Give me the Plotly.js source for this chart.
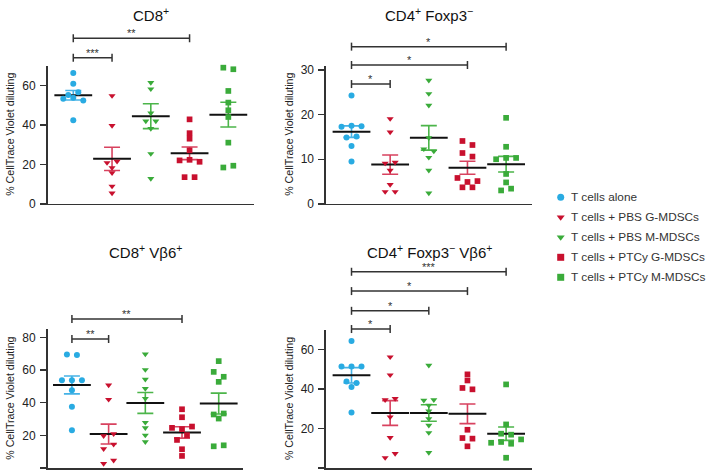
<!DOCTYPE html>
<html><head><meta charset="utf-8">
<script src="https://cdn.plot.ly/plotly-3.0.1.min.js"></script>
<style>html,body{margin:0;padding:0;background:#fff;}#chart{width:706px;height:475px;}</style>
</head><body><div id="chart"></div>
<script>
// ---------- DATA ----------
const groups = ['T cells alone', 'T cells + PBS G-MDSCs', 'T cells + PBS M-MDSCs', 'T cells + PTCy G-MDSCs', 'T cells + PTCy M-MDSCs'];
const panelTitles = ['CD8<sup>+</sup>', 'CD4<sup>+</sup> Foxp3<sup>−</sup>', 'CD8<sup>+</sup> Vβ6<sup>+</sup>', 'CD4<sup>+</sup> Foxp3<sup>−</sup> Vβ6<sup>+</sup>'];
const yTitle = '% CellTrace Violet diluting';
const ticks1 = [0, 20, 40, 60];
const ticks2 = [0, 10, 20, 30];
const ticks3 = [0, 20, 40, 60, 80];
const ticks4 = [0, 20, 40, 60];

// Panel 1: CD8+
const p1_alone = [66.3, 60.9, 55.1, 56.6, 53.3, 53.8, 52.4, 42.3];
const p1_pbsG  = [54.8, 39.6, 20.8, 21.5, 18.3, 15.7, 8.9, 5.4];
const p1_pbsM  = [61.4, 58.2, 46.0, 41.9, 41.9, 38.1, 25.4, 12.8];
const p1_ptcyG = [42.8, 35.8, 33.0, 27.1, 22.0, 22.3, 21.3, 13.5, 13.5];
const p1_ptcyM = [69.0, 68.2, 57.2, 51.3, 47.4, 44.0, 31.0, 18.4, 19.3];
const p1_mean = [55.0, 22.8, 44.4, 25.6, 45.2];
const p1_sem  = [2.4, 5.9, 6.3, 3.2, 6.3];
const p1_sig  = [[0, 1, '***'], [0, 3, '**']];

// Panel 2: CD4+ Foxp3-
const p2_alone = [24.3, 17.3, 17.5, 17.4, 14.9, 15.1, 13.0, 9.5];
const p2_pbsG  = [19.1, 16.1, 9.1, 9.3, 7.5, 4.3, 2.7, 2.7];
const p2_pbsM  = [27.7, 24.7, 22.1, 14.8, 12.3, 11.8, 10.4, 7.5, 2.4];
const p2_ptcyG = [14.1, 13.2, 11.4, 10.6, 5.8, 4.9, 5.1, 3.7, 3.7];
const p2_ptcyM = [19.3, 12.8, 10.0, 10.3, 10.3, 6.7, 4.8, 3.0, 3.4];
const p2_mean = [16.2, 8.8, 14.8, 8.1, 8.9];
const p2_sem  = [1.3, 2.15, 2.75, 1.45, 1.75];
const p2_sig  = [[0, 1, '*'], [0, 3, '*'], [0, 4, '*']];

// Panel 3: CD8+ Vb6+
const p3_alone = [69.6, 69.2, 53.8, 53.8, 53.8, 47.7, 37.5, 23.1];
const p3_pbsG  = [50.8, 42.0, 19.7, 20.9, 11.7, 14.5, 2.7, 4.7];
const p3_pbsM  = [69.8, 60.2, 54.3, 48.7, 42.6, 27.9, 24.6, 20.1, 16.0];
const p3_ptcyG = [36.0, 31.1, 24.6, 23.8, 25.4, 17.2, 20.1, 11.5, 7.4];
const p3_ptcyM = [65.5, 58.9, 55.9, 52.8, 32.8, 33.4, 30.3, 13.3, 13.9];
const p3_mean = [50.9, 20.8, 39.9, 21.8, 39.5];
const p3_sem  = [5.5, 6.1, 6.4, 3.5, 6.4];
const p3_sig  = [[0, 1, '**'], [0, 3, '**']];

// Panel 4: CD4+ Foxp3- Vb6+
const p4_alone = [64.4, 51.5, 51.5, 51.5, 43.9, 43.1, 41.1, 28.1];
const p4_pbsG  = [56.3, 47.2, 34.6, 35.2, 25.9, 15.4, 5.2, 7.3];
const p4_pbsM  = [52.1, 34.3, 34.6, 31.8, 28.9, 25.0, 21.6, 17.9, 7.8];
const p4_ptcyG = [47.5, 44.4, 40.6, 39.9, 19.4, 15.2, 14.9, 11.0];
const p4_ptcyM = [42.4, 22.1, 17.4, 16.9, 12.8, 13.2, 12.3, 14.5, 5.2];
const p4_mean = [47.0, 27.9, 27.9, 27.5, 17.4];
const p4_sem  = [3.9, 6.3, 4.2, 5.0, 3.4];
const p4_sig  = [[0, 1, '*'], [0, 2, '*'], [0, 3, '*'], [0, 4, '***']];

// ---------- STYLE ----------
const W = 706, H = 475;
const FONT = 'Liberation Sans, Arial, Helvetica, sans-serif';
const colors = ['#29abe2', '#c8102e', '#3aab3a', '#c8102e', '#3aab3a'];
const semColors = ['#45b2e6', '#d8425f', '#4cb54a', '#d8425f', '#4cb54a'];
const symbols = ['circle', 'triangle-down', 'triangle-down', 'square', 'square'];
const sizes = [6, 6.2, 6.2, 5.7, 5.7];
const XR = [-0.66, 4.67];

const panels = [
  {vals: [p1_alone, p1_pbsG, p1_pbsM, p1_ptcyG, p1_ptcyM], mean: p1_mean, sem: p1_sem, sig: p1_sig,
   yr: [0, 70], ticks: ticks1, box: [47.7, 254.3, 65.7, 203.8], levels: [1.058, 1.199], titleY: 14, ytx: 10},
  {vals: [p2_alone, p2_pbsG, p2_pbsM, p2_ptcyG, p2_ptcyM], mean: p2_mean, sem: p2_sem, sig: p2_sig,
   yr: [0, 31], ticks: ticks2, box: [326, 532, 65.7, 203.8], levels: [0.867, 1.005, 1.138], titleY: 14, ytx: 289},
  {vals: [p3_alone, p3_pbsG, p3_pbsM, p3_ptcyG, p3_ptcyM], mean: p3_mean, sem: p3_sem, sig: p3_sig,
   yr: [0, 85], ticks: ticks3, box: [47.7, 243.3, 329.3, 468], levels: [0.93, 1.074], titleY: 251.7, ytx: 10},
  {vals: [p4_alone, p4_pbsG, p4_pbsM, p4_ptcyG, p4_ptcyM], mean: p4_mean, sem: p4_sem, sig: p4_sig,
   yr: [0, 70], ticks: ticks4, box: [326, 532, 330, 468], levels: [1.007, 1.139, 1.282, 1.422], titleY: 251.7, ytx: 289}
];

function swarm(vals, pxPerY, step, thr) {
  const idx = vals.map((v, i) => i).sort((a, b) => vals[b] - vals[a] || a - b);
  const off = new Array(vals.length).fill(0);
  let k = 0;
  while (k < idx.length) {
    const top = vals[idx[k]];
    let j = k + 1;
    while (j < idx.length && (top - vals[idx[j]]) * pxPerY < thr) j++;
    const members = idx.slice(k, j).sort((a, b) => a - b);
    const n = members.length;
    members.forEach((m, q) => { off[m] = (q - (n - 1) / 2) * step; });
    k = j;
  }
  return off;
}

const traces = [];
const shapes = [];
const annotations = [];
const layout = {
  width: W, height: H, margin: {l: 0, r: 0, t: 0, b: 0},
  paper_bgcolor: '#fff', plot_bgcolor: 'rgba(0,0,0,0)',
  showlegend: false, font: {family: FONT, color: '#222'}
};

panels.forEach((p, pi) => {
  const s = pi === 0 ? '' : String(pi + 1);
  const [xl, xr, yt, yb] = p.box;
  const pxPerX = (xr - xl) / (XR[1] - XR[0]);
  const pxPerY = (yb - yt) / (p.yr[1] - p.yr[0]);
  layout['xaxis' + s] = {domain: [xl / W, xr / W], range: XR, anchor: 'y' + s,
    showline: true, linecolor: '#333', linewidth: 1.6, ticks: '', showticklabels: false,
    showgrid: false, zeroline: false, fixedrange: true};
  layout['yaxis' + s] = {domain: [1 - yb / H, 1 - yt / H], range: p.yr, anchor: 'x' + s,
    showline: true, linecolor: '#333', linewidth: 1.6, ticks: 'outside', ticklen: 6, tickwidth: 1.4,
    tickcolor: '#333', tickvals: p.ticks, tickfont: {size: 12, color: '#222', family: FONT},
    showgrid: false, zeroline: false, fixedrange: true, ticklabelstandoff: 2};

  // mean + SEM
  p.mean.forEach((m, g) => {
    traces.push({type: 'scatter', mode: 'markers', x: [g], y: [m], xaxis: 'x' + s, yaxis: 'y' + s,
      marker: {symbol: 'line-ew', size: 27, color: '#111', line: {width: 2, color: '#111'}},
      error_y: {type: 'data', array: [p.sem[g]], visible: true, color: semColors[g], thickness: 1.6, width: 8},
      hoverinfo: 'skip', cliponaxis: false});
  });
  // points
  p.vals.forEach((v, g) => {
    const off = swarm(v, pxPerY, 10 / pxPerX, 5);
    traces.push({type: 'scatter', mode: 'markers', name: groups[g],
      x: v.map((_, i) => g + off[i]), y: v, xaxis: 'x' + s, yaxis: 'y' + s,
      marker: {symbol: symbols[g], size: sizes[g], color: colors[g]}, cliponaxis: false});
  });
  // significance brackets
  const dTick = 4 / (yb - yt);
  p.sig.forEach((sg, k) => {
    const [a, b, txt] = sg;
    const lv = p.levels[k];
    const ln = {color: '#333', width: 1.5};
    shapes.push({type: 'line', xref: 'x' + s, yref: 'y' + s + ' domain', x0: a, x1: b, y0: lv, y1: lv, line: ln});
    shapes.push({type: 'line', xref: 'x' + s, yref: 'y' + s + ' domain', x0: a, x1: a, y0: lv - dTick, y1: lv + dTick, line: ln});
    shapes.push({type: 'line', xref: 'x' + s, yref: 'y' + s + ' domain', x0: b, x1: b, y0: lv - dTick, y1: lv + dTick, line: ln});
    annotations.push({xref: 'x' + s, yref: 'y' + s + ' domain', x: (a + b) / 2, y: lv, text: txt,
      showarrow: false, yanchor: 'bottom', yshift: -3, font: {size: 11, color: '#333', family: FONT}});
  });
  // panel title
  annotations.push({xref: 'x' + s + ' domain', yref: 'paper', x: 0.5, y: 1 - p.titleY / H, text: panelTitles[pi],
    showarrow: false, xanchor: 'center', yanchor: 'middle', font: {size: 15, color: '#111', family: FONT}});
  // y title
  annotations.push({xref: 'paper', yref: 'y' + s + ' domain', x: p.ytx / W, y: 0.5, text: yTitle, textangle: -90,
    showarrow: false, xanchor: 'center', yanchor: 'middle', font: {size: 10.6, color: '#222', family: FONT}});
});

// legend (custom)
layout.xaxis5 = {domain: [550 / W, 1], range: [-10.7, 145.3], visible: false, fixedrange: true, anchor: 'y5'};
layout.yaxis5 = {domain: [1 - 287.3 / H, 1 - 187.3 / H], range: [4.5, -0.5], visible: false, fixedrange: true, anchor: 'x5'};
traces.push({type: 'scatter', mode: 'markers', x: groups.map(() => 0), y: groups.map((_, i) => i),
  xaxis: 'x5', yaxis: 'y5', cliponaxis: false, hoverinfo: 'skip',
  marker: {symbol: symbols, color: colors, size: 7}});
groups.forEach((gname, i) => {
  annotations.push({xref: 'x5', yref: 'y5', x: 8, y: i, text: gname, showarrow: false, xanchor: 'left', yanchor: 'middle',
    font: {size: 11.8, color: '#333', family: FONT}});
});

layout.shapes = shapes;
layout.annotations = annotations;
Plotly.newPlot('chart', traces, layout, {staticPlot: true, displayModeBar: false});
</script>
</body></html>
